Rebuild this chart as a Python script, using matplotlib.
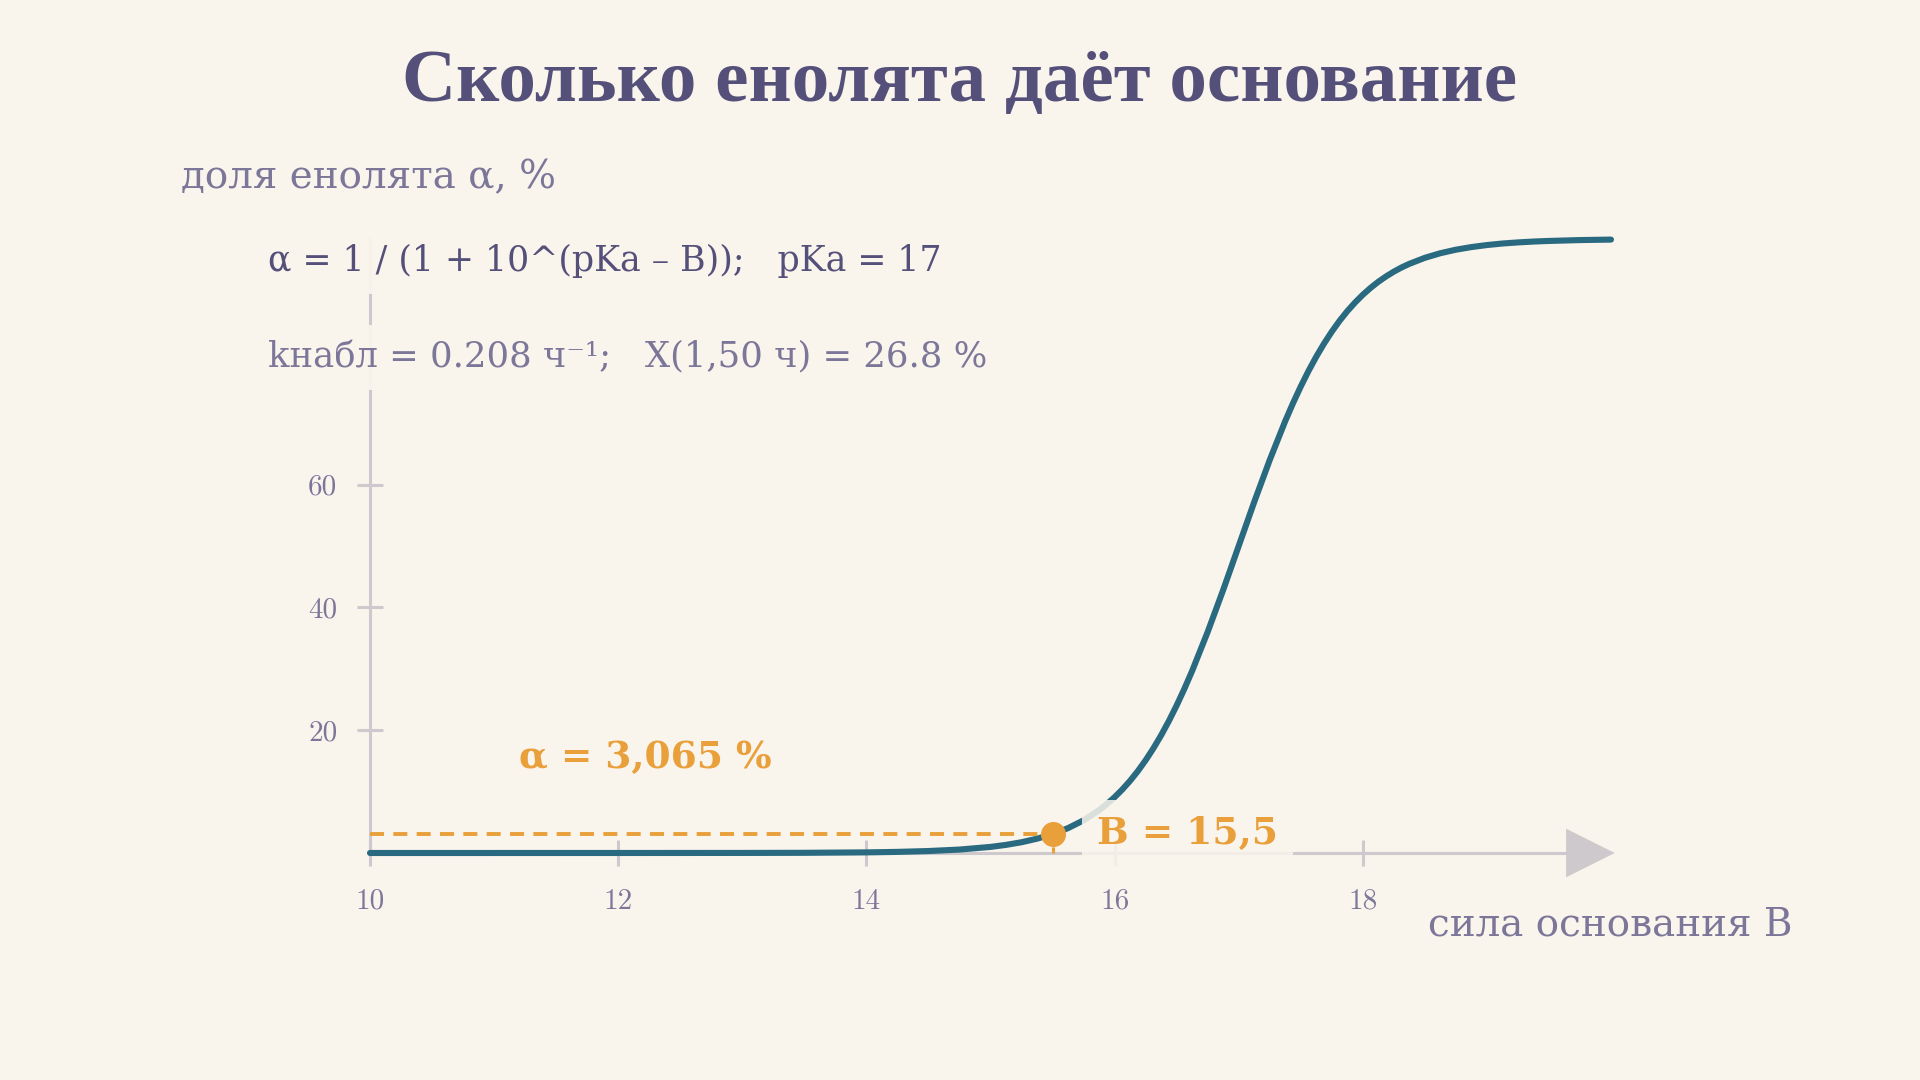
import numpy as np
import matplotlib.pyplot as plt

# цвета
BG = '#f9f4ec'
DARK = '#55507a'
SOFT = '#7c7799'
GRID = '#cdc9cc'
CURVE = '#2a6a80'
ORANGE = '#e9a03b'

# данные: доля енолята (%) в зависимости от силы основания B (pKa = 17)
b_vals = [10, 11, 12, 13, 13.5, 14, 14.25, 14.5, 14.75, 15, 15.125, 15.25, 15.375,
          15.5, 15.625, 15.75, 15.875, 15.9375, 16, 16.0625, 16.125, 16.1875,
          16.25, 16.3125, 16.375, 16.4375, 16.5, 16.5625, 16.625,
          16.75, 16.875, 17, 17.125, 17.25, 17.375, 17.4375, 17.5, 17.5625,
          17.625, 17.6875, 17.75, 17.8125, 17.875, 17.9375,
          18, 18.0625, 18.125, 18.1875, 18.25, 18.3125, 18.375, 18.5, 18.625,
          18.75, 18.875, 19, 19.125, 19.25, 19.375, 19.5, 19.75, 20]
alpha_vals = [0.0, 0.0, 0.001, 0.01, 0.03, 0.10, 0.18, 0.32, 0.56, 0.99, 1.32, 1.75, 2.33,
              3.065, 4.05, 5.32, 6.97, 7.97, 9.09, 10.35, 11.76, 13.34,
              15.10, 17.04, 19.17, 21.50, 24.03, 26.75, 29.66,
              36.00, 42.84, 50.0, 57.16, 64.00, 70.34, 73.25, 75.97, 78.50,
              80.83, 82.96, 84.90, 86.66, 88.24, 89.65,
              90.91, 92.03, 93.03, 93.90, 94.68, 95.36, 95.95, 96.93, 97.68,
              98.25, 98.68, 99.01, 99.26, 99.44, 99.58, 99.68, 99.82, 99.90]

b_point = 15.5
alpha_point = 3.065

x_ticks = [10, 12, 14, 16, 18]
y_ticks = [20, 40, 60]

title = 'Сколько енолята даёт основание'
y_label = 'доля енолята α, %'
x_label = 'сила основания B'
formula1 = 'α = 1 / (1 + 10^(pKa – B));   pKa = 17'
formula2 = 'kнабл = 0.208 ч⁻¹;   X(1,50 ч) = 26.8 %'
point_label = 'α = 3,065 %'
b_label = 'B = 15,5'

fig = plt.figure(figsize=(19.2, 10.8), dpi=100, facecolor=BG)
ax = fig.add_axes([0.12807, 0.12491, 0.84026, 0.7391])
ax.set_facecolor(BG)
ax.set_xlim(9, 22)
ax.set_ylim(-15, 115)

# оси через спайны
for s in ['top', 'right']:
    ax.spines[s].set_visible(False)
ax.spines['left'].set_position(('data', 10))
ax.spines['bottom'].set_position(('data', 0))
ax.spines['left'].set_bounds(0, 100)
ax.spines['bottom'].set_bounds(10, 19.7)
for s in ['left', 'bottom']:
    ax.spines[s].set_color(GRID)
    ax.spines[s].set_linewidth(2.2)

ax.set_xticks(x_ticks)
ax.set_yticks(y_ticks)
ax.tick_params(axis='both', direction='inout', length=19, width=2.2, color=GRID,
               labelcolor=SOFT, labelsize=21)
ax.tick_params(axis='x', pad=16)
ax.tick_params(axis='y', pad=14)
for lab in ax.get_xticklabels() + ax.get_yticklabels():
    lab.set_family('cmr10')

# стрелка оси x
ax.annotate('', xy=(20.03, 0), xytext=(19.6, 0),
            arrowprops=dict(arrowstyle='-|>,head_length=1.0,head_width=0.5',
                            mutation_scale=35, fc=GRID, ec=GRID, lw=0,
                            shrinkA=0, shrinkB=0))

# кривая
ax.plot(b_vals, alpha_vals, color=CURVE, lw=4.4, solid_capstyle='round',
        solid_joinstyle='round', zorder=3)

# выделенная точка
ax.plot([10, b_point], [alpha_point, alpha_point], color=ORANGE, lw=2.8,
        linestyle=(0, (3.6, 2.4)), zorder=3)
ax.plot([b_point, b_point], [0, alpha_point], color=ORANGE, lw=2.2,
        linestyle=(0, (2, 2)), zorder=3)
ax.plot(b_point, alpha_point, 'o', ms=17, color=ORANGE, zorder=4)

box = dict(boxstyle='square,pad=0.4', fc=BG, ec='none', alpha=0.85)
ax.text(11.2, 15.6, point_label, color=ORANGE, fontsize=27, fontweight='bold',
        family='DejaVu Serif', ha='left', va='center', zorder=5)
ax.text(15.86, 3.1, b_label, color=ORANGE, fontsize=27, fontweight='bold',
        family='DejaVu Serif', ha='left', va='center', zorder=5, bbox=box)

# заголовок и подписи
fig.text(0.5, 0.923, title, color=DARK, fontsize=54, fontweight='bold',
         family='Liberation Serif', ha='center', va='center')
tbox = dict(boxstyle='square,pad=0.45', fc=BG, ec='none', alpha=0.95)
fig.text(0.0943, 0.835, y_label, color=SOFT, fontsize=28,
         family=['DejaVu Serif', 'DejaVu Sans'], ha='left', va='center', bbox=tbox)
fig.text(0.1396, 0.758, formula1, color=DARK, fontsize=25,
         family=['DejaVu Serif', 'DejaVu Sans'], ha='left', va='center', bbox=tbox)
fig.text(0.1396, 0.669, formula2, color=SOFT, fontsize=25.5,
         family=['DejaVu Serif', 'DejaVu Sans'], ha='left', va='center', bbox=tbox)
fig.text(0.744, 0.1435, x_label, color=SOFT, fontsize=28,
         family=['DejaVu Serif', 'DejaVu Sans'], ha='left', va='center', bbox=tbox)

fig.savefig('out.png', dpi=100, facecolor=BG)
